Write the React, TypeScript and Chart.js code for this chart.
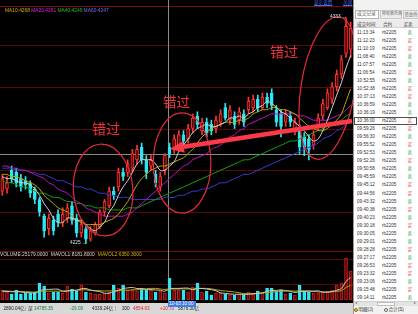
import React, { useEffect, useRef } from "react";
import { Chart, registerables } from "chart.js";
Chart.register(...registerables);

// ---------- data ----------
const opens = [4250,4251,4260,4259,4256,4255,4254,4251,4246,4238,4232,4236,4239,4235,4237,4243,4237,4230,4232,4227,4230,4233,4240,4243,4250,4252,4259,4259,4261,4265,4271,4265,4262,4258,4252,4260,4271,4270,4271,4277,4275,4280,4286,4279,4283,4282,4280,4283,4290,4284,4286,4284,4287,4289,4290,4294,4290,4295,4297,4289,4287,4283,4286,4279,4280,4276,4275,4272,4281,4286,4290,4294,4300,4306,4316,4318];
const closes = [4256,4254,4256,4254,4252,4253,4249,4246,4240,4231,4237,4231,4235,4239,4242,4236,4230,4234,4227,4231,4234,4240,4245,4250,4248,4259,4257,4263,4268,4270,4265,4259,4265,4254,4257,4267,4268,4275,4277,4274,4280,4285,4282,4283,4278,4279,4284,4287,4285,4289,4282,4288,4283,4293,4294,4290,4295,4292,4291,4283,4281,4287,4283,4283,4271,4271,4270,4277,4285,4292,4297,4300,4306,4313,4329,4328];
const highs = [4258,4257,4262,4261,4258,4257,4255,4252,4247,4239,4239,4238,4241,4242,4244,4245,4239,4236,4233,4233,4235,4241,4246,4252,4252,4261,4261,4265,4270,4272,4273,4267,4267,4260,4259,4268,4273,4277,4279,4279,4282,4287,4288,4285,4285,4284,4286,4289,4292,4291,4288,4290,4289,4295,4296,4296,4297,4297,4299,4291,4289,4289,4288,4285,4282,4278,4277,4279,4287,4294,4299,4302,4308,4315,4333,4331];
const lows = [4248,4249,4254,4252,4250,4251,4247,4244,4238,4228,4229,4229,4233,4233,4235,4234,4228,4228,4225,4226,4229,4232,4238,4242,4246,4250,4255,4257,4259,4263,4263,4256,4260,4252,4250,4258,4266,4268,4269,4272,4273,4278,4280,4277,4276,4277,4278,4281,4284,4282,4280,4282,4281,4287,4288,4288,4289,4290,4289,4281,4276,4281,4281,4277,4268,4267,4265,4270,4279,4284,4289,4292,4298,4304,4314,4314];
const ma5 = [4257,4256,4256,4255,4254,4254,4253,4251,4248,4244,4241,4237,4235,4235,4237,4237,4236,4236,4234,4232,4231,4233,4235,4240,4243,4248,4252,4255,4259,4263,4265,4265,4265,4263,4260,4260,4262,4264,4269,4272,4275,4278,4280,4281,4282,4281,4281,4282,4283,4285,4285,4286,4285,4287,4288,4290,4291,4293,4292,4290,4288,4287,4285,4283,4281,4279,4276,4274,4275,4279,4284,4290,4296,4302,4309,4315];
const ma10 = [4258,4258,4257,4257,4256,4255,4254,4253,4251,4248,4246,4244,4242,4241,4240,4238,4236,4235,4234,4234,4234,4234,4235,4236,4237,4239,4242,4245,4249,4253,4256,4258,4260,4261,4262,4262,4263,4264,4265,4266,4268,4270,4273,4276,4278,4280,4281,4282,4283,4283,4283,4284,4284,4285,4287,4288,4289,4289,4290,4290,4289,4289,4288,4287,4285,4283,4281,4280,4279,4279,4280,4282,4284,4287,4293,4299];
const ma20 = [4262,4262,4261,4261,4260,4260,4259,4258,4257,4256,4254,4253,4251,4250,4249,4247,4245,4244,4242,4241,4240,4239,4238,4238,4238,4238,4238,4239,4240,4242,4244,4246,4248,4250,4252,4254,4256,4258,4260,4262,4263,4265,4266,4267,4268,4270,4271,4272,4274,4276,4277,4279,4280,4282,4283,4284,4285,4286,4287,4287,4287,4287,4287,4287,4286,4286,4285,4284,4284,4284,4284,4285,4286,4287,4289,4291];
const ma40 = [4255,4254,4254,4253,4252,4252,4251,4250,4249,4249,4248,4247,4247,4246,4245,4245,4244,4244,4243,4243,4242,4242,4242,4241,4241,4241,4241,4242,4242,4242,4243,4244,4245,4246,4247,4248,4249,4250,4251,4252,4253,4254,4255,4256,4257,4258,4259,4260,4261,4262,4263,4264,4265,4265,4266,4267,4268,4269,4270,4271,4272,4273,4274,4274,4275,4276,4277,4278,4279,4280,4281,4282,4283,4284,4286,4287];
const ma60 = [4261,4261,4261,4260,4260,4260,4259,4259,4258,4258,4257,4256,4255,4255,4254,4253,4252,4252,4251,4251,4250,4249,4249,4248,4248,4247,4247,4247,4246,4246,4246,4246,4246,4246,4246,4247,4247,4247,4248,4248,4249,4250,4250,4251,4251,4252,4253,4254,4254,4255,4256,4257,4258,4258,4259,4260,4261,4262,4263,4264,4265,4266,4267,4268,4269,4270,4271,4272,4273,4275,4276,4277,4279,4280,4282,4284];
const volumes = [11400,9200,6900,11500,6900,8000,8000,9200,19500,16000,8000,9200,9200,8000,16000,12600,10300,17200,9200,8000,6900,6900,8000,9200,17200,13700,17200,11500,12600,10300,13700,11500,11500,9200,10300,8000,25179,11500,11500,11500,9200,14900,19500,9200,10300,5700,8000,8000,6900,5700,5700,6900,5700,9200,8000,10300,9200,13700,13700,10300,11500,6900,8000,5700,17200,10300,9200,8000,8000,9200,10300,11500,17200,19500,48100,33200];
const mavol1 = [10000,9800,9400,9600,9200,8500,8300,7800,10300,12100,12100,12400,12400,10100,10100,11000,11100,12900,13100,11500,10300,9600,7800,7800,9600,11000,13100,13800,14400,13100,13100,11900,11900,11500,11200,10100,12800,13300,13300,13600,13600,11700,13300,13200,12600,11800,10500,8200,7600,6900,6600,6600,6400,6600,6900,7600,8100,10100,10900,11000,11500,10800,10100,8600,9800,9600,10100,10100,10500,9000,9000,9500,11200,13100,21300,25900];
const mavol2 = [10500,10300,10000,9900,9700,9500,9300,9000,9700,10200,10000,10100,10100,10000,10800,11000,11200,11700,11600,10800,10800,10500,10300,10400,10500,10600,11300,11200,11500,11700,12400,12900,13300,13300,12600,12100,12600,12600,12600,12700,12600,12600,13200,13300,13300,12800,11800,10800,10300,9800,9200,8300,7300,7300,7300,7800,7900,8500,9200,9600,10200,10200,10400,10100,10600,10600,10500,9900,9300,9200,9200,9700,10000,10700,14500,16800];
const gridPrices = [4320, 4300, 4280, 4260, 4240];
const crossIndex = 36;
const crossPrice = 4268;
const highLabel = "4333";
const lowLabel = "4225";
const legendItems = [
  { t: "MA10:4268", c: "#c8b800" },
  { t: "MA20:4261", c: "#e020e0" },
  { t: "MA40:4249", c: "#20c020" },
  { t: "MA60:4247", c: "#7070ff" },
];
const volLegend = [
  { t: "VOLUME:25179.0000", c: "#d8d8d8" },
  { t: "MAVOL1:8181.8000", c: "#d8d8d8" },
  { t: "MAVOL2:6350.3000", c: "#c8b800" },
];
const tradeTimes = ["11:13:34","11:12:23","11:10:19","11:08:40","11:07:57","11:06:54","10:52:55","10:52:38","10:37:13","10:36:59","10:36:19","10:36:00","09:59:26","09:56:30","09:55:52","09:52:53","09:52:26","09:50:58","09:45:59","09:45:12","09:44:56","09:43:32","09:40:38","09:40:23","09:30:18","09:30:05","09:29:01","09:28:28","09:27:17","09:26:53","09:23:32","09:23:06","09:15:48","09:14:11"];
const tradeSides = ["卖","买","买","卖","卖","买","卖","买","买","卖","卖","买","买","卖","买","卖","买","卖","卖","买","买","卖","买","卖","买","卖","卖","买","卖","买","买","卖","买","卖"];
const contract = "rb2205";
// annotations in data coordinates: [index, price, radiusIndex, radiusPrice, rotationDeg]
const ellipses = [
  [21.7, 4250.5, 6.4, 22.0, -4],
  [38.7, 4263.5, 6.2, 24.0, 0],
  [70.1, 4299.4, 5.8, 34.5, 9],
];
const arrow = { from: [75.3, 4283.6], to: [36.1, 4270.2] };

const CW = 353;
const CH = 302;

const overlayPlugin = {
  id: "overlay",
  beforeDraw(chart: any) {
    const { ctx } = chart;
    ctx.save();
    ctx.fillStyle = "#000";
    ctx.fillRect(0, 0, chart.width, chart.height);
    ctx.restore();
  },
  beforeDatasetsDraw(chart: any) {
    const { ctx, scales } = chart;
    const ys = scales.y;
    ctx.save();
    ctx.lineWidth = 1;
    ctx.strokeStyle = "#5a0808";
    const hline = (py: number) => {
      const yy = Math.round(py) + 0.5;
      ctx.beginPath();
      ctx.moveTo(0, yy);
      ctx.lineTo(chart.width, yy);
      ctx.stroke();
    };
    gridPrices.forEach((p) => hline(ys.getPixelForValue(p)));
    hline(284);
    hline(258.5);
    ctx.strokeStyle = "#7a0c0c";
    hline(5.5);
    hline(251);
    // crosshair
    const xs = scales.x;
    const cx = Math.round(xs.getPixelForValue(crossIndex)) - 1.5;
    const cy = Math.round(ys.getPixelForValue(crossPrice)) + 0.5;
    ctx.strokeStyle = "#8a8a8a";
    ctx.beginPath();
    ctx.moveTo(cx, 0);
    ctx.lineTo(cx, chart.height);
    ctx.moveTo(0, cy);
    ctx.lineTo(chart.width, cy);
    ctx.stroke();
    ctx.restore();
  },
  afterDatasetsDraw(chart: any) {
    const { ctx, scales } = chart;
    const xs = scales.x;
    const ys = scales.y;
    const step = xs.getPixelForValue(1) - xs.getPixelForValue(0);
    const pxPerPrice = ys.getPixelForValue(0) - ys.getPixelForValue(1);
    ctx.save();
    ctx.strokeStyle = "#e8283a";
    ctx.lineWidth = 1.2;
    ellipses.forEach(([ci, p, ri, rp, rot]) => {
      const x = xs.getPixelForValue(0) + ci * step;
      const y = ys.getPixelForValue(p);
      ctx.beginPath();
      ctx.ellipse(x, y, ri * step, rp * pxPerPrice, (rot * Math.PI) / 180, 0, Math.PI * 2);
      ctx.stroke();
    });
    const x1 = xs.getPixelForValue(0) + arrow.from[0] * step;
    const y1 = ys.getPixelForValue(arrow.from[1]);
    const x2 = xs.getPixelForValue(0) + arrow.to[0] * step;
    const y2 = ys.getPixelForValue(arrow.to[1]);
    const ang = Math.atan2(y2 - y1, x2 - x1);
    const headLen = 14;
    const headW = 6;
    const bx = x2 - headLen * Math.cos(ang);
    const by = y2 - headLen * Math.sin(ang);
    ctx.strokeStyle = "#ff3848";
    ctx.fillStyle = "#ff3848";
    ctx.lineWidth = 4.5;
    ctx.lineCap = "butt";
    ctx.beginPath();
    ctx.moveTo(x1, y1);
    ctx.lineTo(bx, by);
    ctx.stroke();
    ctx.beginPath();
    ctx.moveTo(x2, y2);
    ctx.lineTo(bx + headW * Math.sin(ang), by - headW * Math.cos(ang));
    ctx.lineTo(bx - headW * Math.sin(ang), by + headW * Math.cos(ang));
    ctx.closePath();
    ctx.fill();
    ctx.restore();
  },
};

const UP_EDGE = "#ff3232";
const UP_FILL = "#520000";
const DOWN = "#2ee6f0";

type TP = { x: number; y: number; s?: number; c?: string; children: React.ReactNode; ff?: string; extra?: React.CSSProperties };
function T({ x, y, s = 5, c = "#ddd", children, ff, extra }: TP) {
  return (
    <div
      style={{
        position: "absolute",
        left: x,
        top: y - s * 0.6,
        fontSize: s,
        lineHeight: `${s * 1.2}px`,
        color: c,
        whiteSpace: "nowrap",
        fontFamily: ff || "'Liberation Sans', 'Noto Sans CJK SC', sans-serif",
        ...extra,
      }}
    >
      {children}
    </div>
  );
}

export default function App() {
  const ref = useRef<HTMLCanvasElement>(null);
  useEffect(() => {
    const canvas = ref.current!;
    const labels = closes.map((_, i) => String(i));
    const up = closes.map((c, i) => c >= opens[i]);
    const chart = new Chart(canvas, {
      type: "bar",
      data: {
        labels,
        datasets: [
          { type: "line", data: ma5, borderColor: "#d0d0d0", borderWidth: 1, pointRadius: 0, tension: 0.35, order: 0, yAxisID: "y" } as any,
          { type: "line", data: ma10, borderColor: "#b8a800", borderWidth: 1, pointRadius: 0, tension: 0.35, order: 1, yAxisID: "y" } as any,
          { type: "line", data: ma20, borderColor: "#c010c0", borderWidth: 1, pointRadius: 0, tension: 0.35, order: 2, yAxisID: "y" } as any,
          { type: "line", data: ma40, borderColor: "#10a010", borderWidth: 1, pointRadius: 0, tension: 0.35, order: 3, yAxisID: "y" } as any,
          { type: "line", data: ma60, borderColor: "#3a3ad0", borderWidth: 1, pointRadius: 0, tension: 0.35, order: 4, yAxisID: "y" } as any,
          { type: "line", data: mavol1, borderColor: "#c8c8c8", borderWidth: 1, pointRadius: 0, tension: 0.35, order: 5, yAxisID: "yv" } as any,
          { type: "line", data: mavol2, borderColor: "#b8a800", borderWidth: 1, pointRadius: 0, tension: 0.35, order: 6, yAxisID: "yv" } as any,
          {
            type: "bar",
            data: opens.map((o, i) => [o, closes[i]]),
            backgroundColor: up.map((u) => (u ? UP_FILL : DOWN)),
            borderColor: up.map((u) => (u ? UP_EDGE : DOWN)),
            borderWidth: 1,
            borderSkipped: false,
            barThickness: 3,
            grouped: false,
            order: 7,
            yAxisID: "y",
          } as any,
          {
            type: "bar",
            data: lows.map((l, i) => [l, highs[i]]),
            backgroundColor: up.map((u) => (u ? UP_EDGE : DOWN)),
            barThickness: 1,
            grouped: false,
            order: 8,
            yAxisID: "y",
          } as any,
          {
            type: "bar",
            data: volumes,
            backgroundColor: up.map((u) => (u ? "#6a0606" : DOWN)),
            borderColor: up.map((u) => (u ? "#c02020" : DOWN)),
            borderWidth: 1,
            borderSkipped: false,
            barThickness: 3,
            grouped: false,
            order: 9,
            yAxisID: "yv",
          } as any,
        ],
      },
      options: {
        responsive: false,
        animation: false,
        events: [],
        layout: { padding: 0 },
        plugins: { legend: { display: false }, tooltip: { enabled: false } },
        scales: {
          x: { display: false, offset: true, grid: { display: false } },
          y: { display: false, min: 4196.89, max: 4341.56 },
          yv: { display: false, min: -2290, max: 343500 },
        },
      } as any,
      plugins: [overlayPlugin as any],
    });
    return () => chart.destroy();
  }, []);

  const rowTop = 28.3;
  const rowH = 8.05;
  return (
    <div style={{ position: "fixed", left: 0, top: 0, width: 418, height: 314, background: "#000", overflow: "hidden" }}>
      <canvas ref={ref} width={CW} height={CH} style={{ position: "absolute", left: 0, top: 0, width: CW, height: CH }} />
      {/* legend */}
      <div style={{ position: "absolute", left: 5, top: 7.5, display: "flex", gap: 1.2, fontSize: 4.9, lineHeight: "6px", fontFamily: "'Liberation Sans', sans-serif", whiteSpace: "nowrap" }}>
        {legendItems.map((l) => (
          <span key={l.t} style={{ color: l.c }}>{l.t}</span>
        ))}
      </div>
      <div style={{ position: "absolute", left: 0, top: 252, display: "flex", gap: 3, fontSize: 4.9, lineHeight: "6px", fontFamily: "'Liberation Sans', sans-serif", whiteSpace: "nowrap" }}>
        {volLegend.map((l) => (
          <span key={l.t} style={{ color: l.c }}>{l.t}</span>
        ))}
      </div>
      <T x={314} y={3} s={4.6} c="#4a6cff" extra={{ textDecoration: "underline" }}>显示设置</T>
      <T x={343} y={3} s={4.6} c="#4a6cff" extra={{ textDecoration: "underline" }}>关闭</T>
      <T x={330} y={17} s={4.8} c="#e0e0e0">{highLabel} →</T>
      <T x={70} y={243} s={4.8} c="#e0e0e0">{lowLabel} →</T>
      {/* annotations text */}
      <T x={92} y={128} s={14} c="#f0303a" ff="'Noto Sans CJK SC', sans-serif">错过</T>
      <T x={163} y={101.5} s={13.5} c="#f0303a" ff="'Noto Sans CJK SC', sans-serif">错过</T>
      <T x={270} y={51} s={14} c="#f0303a" ff="'Noto Sans CJK SC', sans-serif">错过</T>
      {/* bottom status bar */}
      <div style={{ position: "absolute", left: 0, top: 303, width: 353, height: 11, background: "#d8d8d8" }} />
      <T x={-2.5} y={308.5} s={4.6} c="#d02020">1</T>
      <T x={3.5} y={308.5} s={4.6} c="#202020">2890.04亿</T>
      <T x={25} y={308.5} s={4.6} c="#808080">|</T>
      <T x={28} y={308.5} s={4.6} c="#202020">深</T>
      <T x={34} y={308.5} s={4.6} c="#108030">14785.35</T>
      <T x={70} y={308.5} s={4.6} c="#108030">-29.09</T>
      <T x={92} y={308.5} s={4.6} c="#202020">4339.24亿</T>
      <T x={115} y={308.5} s={4.6} c="#808080">|</T>
      <T x={122} y={308.5} s={4.6} c="#202020">300</T>
      <T x={133} y={308.5} s={4.6} c="#e02020">4854.63</T>
      <T x={160} y={308.5} s={4.6} c="#e02020">+10.70</T>
      <T x={178} y={308.5} s={4.6} c="#202020">5876.30亿</T>
      <div style={{ position: "absolute", left: 167.5, top: 300.5, width: 28, height: 6.5, background: "#3d7ee8" }} />
      <T x={169} y={303.8} s={4.6} c="#ffffff">12-03 10:00</T>
      {/* right panel */}
      <div style={{ position: "absolute", left: 353, top: 0, width: 65, height: 314, background: "#f2f2f0", borderLeft: "1px solid #9a9a9a", boxSizing: "border-box" }} />
      <div style={{ position: "absolute", left: 355, top: 9.5, width: 24, height: 9, background: "#ffffff", border: "1px solid #b4b4b4", boxSizing: "border-box" }} />
      <div style={{ position: "absolute", left: 380, top: 9.5, width: 22, height: 9, background: "#ececec", border: "1px solid #c8c8c8", boxSizing: "border-box" }} />
      <div style={{ position: "absolute", left: 403, top: 9.5, width: 16, height: 9, background: "#ececec", border: "1px solid #c8c8c8", boxSizing: "border-box" }} />
      <T x={357} y={14.2} s={4.7} c="#555">成交记录</T>
      <T x={382} y={14.2} s={4.0} c="#666">所有委托单</T>
      <T x={404.5} y={14.2} s={4.3} c="#666">资金持仓</T>
      <div style={{ position: "absolute", left: 354, top: 20, width: 64, height: 8.3, background: "#ececec", borderBottom: "1px solid #d0d0d0", boxSizing: "border-box" }} />
      <T x={357} y={24.3} s={4.6} c="#333">成交时间</T>
      <T x={383} y={24.3} s={4.6} c="#333">合约</T>
      <T x={403.5} y={24.3} s={4.6} c="#333">买卖</T>
      <div style={{ position: "absolute", left: 354, top: rowTop, width: 64, height: rowH * tradeTimes.length, background: "#ffffff" }} />
      {tradeTimes.map((t, k) => (
        <React.Fragment key={t}>
          {k === 11 && (
            <div style={{ position: "absolute", left: 354, top: rowTop + rowH * k, width: 63, height: rowH, border: "1px solid #505050", boxSizing: "border-box" }} />
          )}
          <T x={357} y={rowTop + rowH * k + 4} s={4.6} c="#333">{t}</T>
          <T x={382} y={rowTop + rowH * k + 4} s={4.6} c="#333">{contract}</T>
          <T x={407.5} y={rowTop + rowH * k + 4} s={4.6} c={tradeSides[k] === "买" ? "#e02828" : "#18a040"}>{tradeSides[k]}</T>
        </React.Fragment>
      ))}
      {/* scrollbar */}
      <div style={{ position: "absolute", left: 354, top: 301, width: 64, height: 5, background: "#e4e4e4", borderTop: "1px solid #cfcfcf", boxSizing: "border-box" }} />
      <div style={{ position: "absolute", left: 377, top: 302, width: 18, height: 3.5, background: "#f8f8f8", border: "1px solid #c0c0c0", boxSizing: "border-box" }} />
      <T x={355} y={303.5} s={4} c="#777">◂</T>
      <T x={414} y={303.5} s={4} c="#777">▸</T>
      <div style={{ position: "absolute", left: 354, top: 307.8, width: 4, height: 4, borderRadius: 2, background: "#f0c020", border: "0.5px solid #907010", boxSizing: "border-box" }} />
      <T x={358.5} y={310} s={4.6} c="#333">明细(J)</T>
      <div style={{ position: "absolute", left: 384, top: 307.8, width: 4, height: 4, borderRadius: 2, background: "#fff", border: "0.6px solid #606060", boxSizing: "border-box" }} />
      <T x={388.5} y={310} s={4.6} c="#333">合计(S)</T>
    </div>
  );
}
